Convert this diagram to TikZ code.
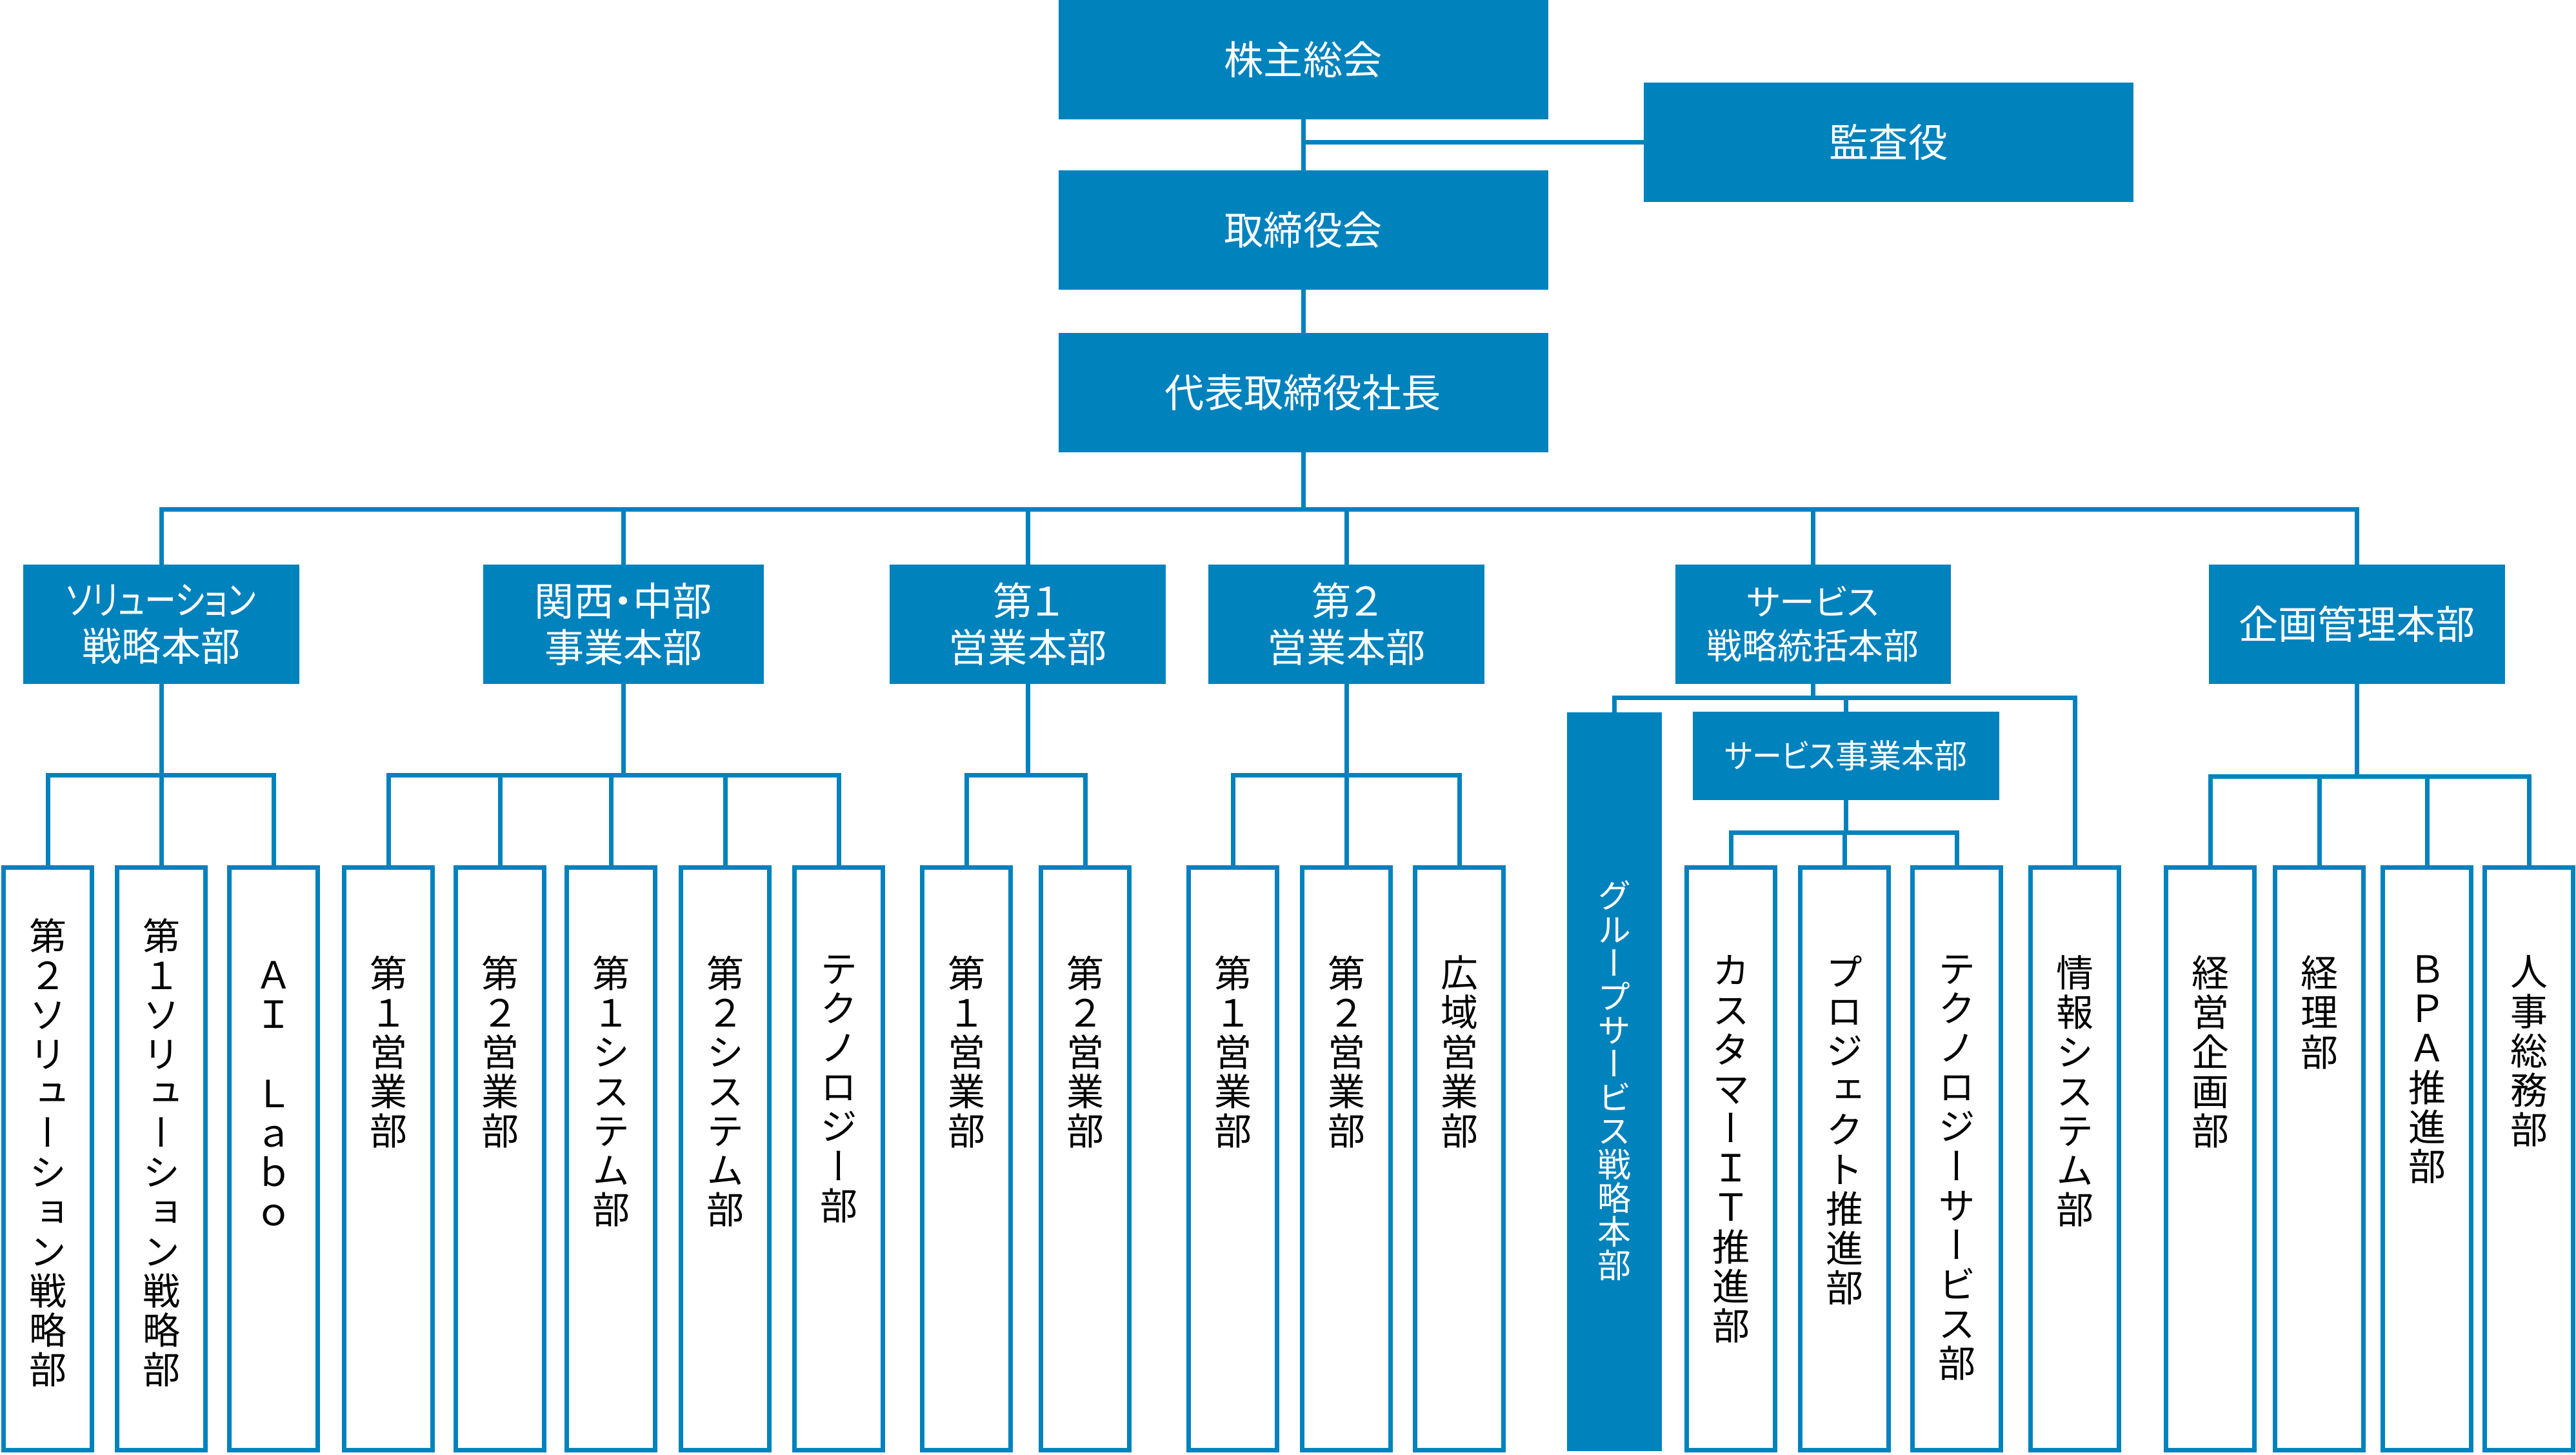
\documentclass[tikz,border=0pt]{standalone}
\usepackage{fontspec}
\usepackage{tikz}
\usetikzlibrary{positioning}
\newfontfamily\jph[RawFeature=+palt]{Noto Sans CJK JP}
\newfontfamily\jpv[RawFeature=+vert]{Noto Sans CJK JP}
\definecolor{orgblue}{RGB}{0,130,189}

\begin{document}
\begin{tikzpicture}[line width=0.07cm,
    box/.style={fill=orgblue, text=white, inner sep=0pt, outer sep=0pt, align=center, font={\jph\fontsize{17.4}{20.5}\selectfont}},
    topbox/.style={box, minimum width=7.59cm, minimum height=1.85cm},
    headbox/.style={box, minimum height=1.85cm},
    leafbox/.style={draw=orgblue, fill=white, minimum width=1.37cm, minimum height=9.03cm, inner sep=0pt, outer sep=0.035cm, anchor=north},
    vtext/.style={inner sep=0pt, outer sep=0pt, align=center, font={\jpv\fontsize{16.5}{17.4}\selectfont}},
    wire/.style={draw=orgblue}]
    \useasboundingbox (0,0) rectangle (39.93,-22.54);

    % Nodes
    \node[topbox] (AGM) at (20.20,-0.925) {株主総会};
    \node[topbox] (AUD) at (29.275,-2.205) {監査役};
    \node[topbox] (BD) at (20.20,-3.565) {取締役会};
    \node[topbox] (CEO) at (20.20,-6.085) {代表取締役社長};

    \node[headbox, minimum width=4.28cm] (H1) at (2.50,-9.675) {\scalebox{0.8}[1]{ソリューション}\\戦略本部};
    \node[headbox, minimum width=4.35cm] (H2) at (9.665,-9.675) {関西・中部\\事業本部};
    \node[headbox, minimum width=4.28cm] (H3) at (15.93,-9.675) {第１\\営業本部};
    \node[headbox, minimum width=4.28cm] (H4) at (20.87,-9.675) {第２\\営業本部};
    \node[headbox, minimum width=4.27cm, font={\jph\fontsize{15.6}{19.4}\selectfont}] (H5) at (28.10,-9.675) {サービス\\戦略統括本部};
    \node[headbox, minimum width=4.59cm] (H6) at (36.535,-9.675) {企画管理本部};

    \node[box, minimum width=1.47cm, minimum height=11.45cm] (GS) at (25.025,-16.765) {};
    \node[box, minimum width=4.75cm, minimum height=1.37cm, font={\jph\fontsize{14.5}{17}\selectfont}] (SB) at (28.615,-11.715) {\scalebox{0.9}[1]{サービス}事業本部};

    \node[leafbox] (D1) at (0.74,-13.41) {};
    \node[leafbox] (D2) at (2.50,-13.41) {};
    \node[leafbox] (D3) at (4.24,-13.41) {};
    \node[leafbox] (D4) at (6.02,-13.41) {};
    \node[leafbox] (D5) at (7.75,-13.41) {};
    \node[leafbox] (D6) at (9.47,-13.41) {};
    \node[leafbox] (D7) at (11.24,-13.41) {};
    \node[leafbox] (D8) at (13.00,-13.41) {};
    \node[leafbox] (D9) at (14.98,-13.41) {};
    \node[leafbox] (D10) at (16.82,-13.41) {};
    \node[leafbox] (D11) at (19.11,-13.41) {};
    \node[leafbox] (D12) at (20.87,-13.41) {};
    \node[leafbox] (D13) at (22.62,-13.41) {};
    \node[leafbox] (D14) at (26.83,-13.41) {};
    \node[leafbox] (D15) at (28.59,-13.41) {};
    \node[leafbox] (D16) at (30.33,-13.41) {};
    \node[leafbox] (D17) at (32.16,-13.41) {};
    \node[leafbox] (D18) at (34.26,-13.41) {};
    \node[leafbox] (D19) at (35.95,-13.41) {};
    \node[leafbox] (D20) at (37.62,-13.41) {};
    \node[leafbox] (D21) at (39.20,-13.41) {};

    % Vertical labels
    \node[vtext, text=white, font={\jpv\fontsize{14.8}{14.8}\selectfont}, below=2.61cm of GS.north] (GSt) {グ\\ル\\ー\\プ\\サ\\ー\\ビ\\ス\\戦\\略\\本\\部};
    \node[vtext, below=0.82cm of D1.north] (D1t) {第\\２\\ソ\\リ\\ュ\\ー\\シ\\ョ\\ン\\戦\\略\\部};
    \node[vtext, below=0.82cm of D2.north] (D2t) {第\\１\\ソ\\リ\\ュ\\ー\\シ\\ョ\\ン\\戦\\略\\部};
    \node[vtext, below=1.49cm of D3.north] (D3t) {Ａ\\Ｉ\\[17.4pt]Ｌ\\ａ\\ｂ\\ｏ};
    \node[vtext, below=1.40cm of D4.north] (D4t) {第\\１\\営\\業\\部};
    \node[vtext, below=1.40cm of D5.north] (D5t) {第\\２\\営\\業\\部};
    \node[vtext, below=1.40cm of D6.north] (D6t) {第\\１\\シ\\ス\\テ\\ム\\部};
    \node[vtext, below=1.40cm of D7.north] (D7t) {第\\２\\シ\\ス\\テ\\ム\\部};
    \node[vtext, below=1.40cm of D8.north] (D8t) {テ\\ク\\ノ\\ロ\\ジ\\ー\\部};
    \node[vtext, below=1.40cm of D9.north] (D9t) {第\\１\\営\\業\\部};
    \node[vtext, below=1.40cm of D10.north] (D10t) {第\\２\\営\\業\\部};
    \node[vtext, below=1.40cm of D11.north] (D11t) {第\\１\\営\\業\\部};
    \node[vtext, below=1.40cm of D12.north] (D12t) {第\\２\\営\\業\\部};
    \node[vtext, below=1.40cm of D13.north] (D13t) {広\\域\\営\\業\\部};
    \node[vtext, below=1.40cm of D14.north] (D14t) {カ\\ス\\タ\\マ\\ー\\Ｉ\\Ｔ\\推\\進\\部};
    \node[vtext, below=1.40cm of D15.north] (D15t) {プ\\ロ\\ジ\\ェ\\ク\\ト\\推\\進\\部};
    \node[vtext, below=1.40cm of D16.north] (D16t) {テ\\ク\\ノ\\ロ\\ジ\\ー\\サ\\ー\\ビ\\ス\\部};
    \node[vtext, below=1.40cm of D17.north] (D17t) {情\\報\\シ\\ス\\テ\\ム\\部};
    \node[vtext, below=1.40cm of D18.north] (D18t) {経\\営\\企\\画\\部};
    \node[vtext, below=1.40cm of D19.north] (D19t) {経\\理\\部};
    \node[vtext, below=1.40cm of D20.north] (D20t) {Ｂ\\Ｐ\\Ａ\\推\\進\\部};
    \node[vtext, below=1.40cm of D21.north] (D21t) {人\\事\\総\\務\\部};

    % Lines
    \draw[wire] (AGM) -- (BD);
    \draw[wire] (AUD.west) -- (AUD.west -| AGM.south);
    \draw[wire] (BD) -- (CEO);
    \draw[wire] (CEO.south) -- (CEO.south |- 0,-7.89);
    \foreach \h in {H1,H2,H3,H4,H5,H6}
        \draw[wire] (\h.north) |- (CEO.south |- 0,-7.89);

    \draw[wire] (H1.south) -- (H1.south |- 0,-12.01);
    \foreach \d in {D1,D2,D3}
        \draw[wire] (\d.north) |- (H1.south |- 0,-12.01);
    \draw[wire] (H2.south) -- (H2.south |- 0,-12.01);
    \foreach \d in {D4,D5,D6,D7,D8}
        \draw[wire] (\d.north) |- (H2.south |- 0,-12.01);
    \draw[wire] (H3.south) -- (H3.south |- 0,-12.01);
    \foreach \d in {D9,D10}
        \draw[wire] (\d.north) |- (H3.south |- 0,-12.01);
    \draw[wire] (H4.south) -- (H4.south |- 0,-12.01);
    \foreach \d in {D11,D12,D13}
        \draw[wire] (\d.north) |- (H4.south |- 0,-12.01);
    \draw[wire] (H5.south) -- (H5.south |- 0,-10.81);
    \foreach \d in {GS,SB,D17}
        \draw[wire] (\d.north) |- (H5.south |- 0,-10.81);
    \draw[wire] (SB.south) -- (SB.south |- 0,-12.90);
    \foreach \d in {D14,D15,D16}
        \draw[wire] (\d.north) |- (SB.south |- 0,-12.90);
    \draw[wire] (H6.south) -- (H6.south |- 0,-12.03);
    \foreach \d in {D18,D19,D20,D21}
        \draw[wire] (\d.north) |- (H6.south |- 0,-12.03);
\end{tikzpicture}
\end{document}
